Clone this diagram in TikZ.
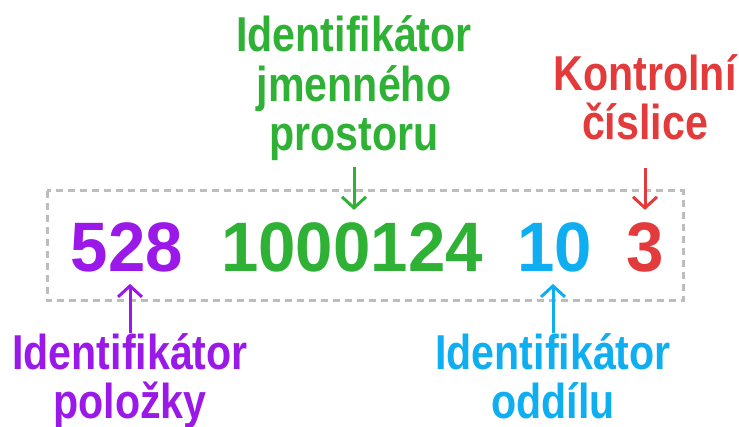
\documentclass[tikz,border=0pt]{standalone}
\usepackage{fontspec}
\usetikzlibrary{arrows.meta}

\newfontfamily\labelfont{Liberation Sans}[FakeStretch = 0.84]
\newfontfamily\digitfont{Liberation Sans}[FakeStretch = 0.96]

\definecolor{itempurple}{HTML}{9B19E8}
\definecolor{nsgreen}{HTML}{2EB135}
\definecolor{partblue}{HTML}{0FAEF0}
\definecolor{checkred}{HTML}{E33B3B}
\definecolor{boxgray}{HTML}{BDBDBD}

\tikzset{
  digits/.style = {inner sep = 0, anchor = base, font = \digitfont\bfseries\fontsize{70}{70}\selectfont},
  idlabel/.style = {inner sep = 0, anchor = base, align = center, font = \labelfont\bfseries\fontsize{49}{49.5}\selectfont},
  pointer/.style = {line width = 3pt, -{Straight Barb[length = 11pt, width = 24pt]}}
}

\begin{document}
\begin{tikzpicture}[x = 1pt, y = -1pt]

    \useasboundingbox (0,0) rectangle (739,427);

    % the dashed frame round the number
    \draw [boxgray, line width = 3pt, dash pattern = on 7pt off 5pt] (47,191) rectangle (683,301);

    % the four parts of the number
    \node [digits, itempurple] (item) at (127,272) {528};
    \node [digits, nsgreen] (ns) at (352,272) {1000124};
    \node [digits, partblue] (part) at (555,272) {10};
    \node [digits, checkred] (check) at (645,272) {3};

    % what each part means (base = last line)
    \node [idlabel, nsgreen] (nslabel) at (354,151) {Identifikátor\\jmenného\\prostoru};
    \node [idlabel, checkred] (checklabel) at (645,140) {Kontrolní\\číslice};
    \node [idlabel, itempurple] (itemlabel) at (130,419) {Identifikátor\\položky};
    \node [idlabel, partblue] (partlabel) at (553,419) {Identifikátor\\oddílu};

    \draw [pointer, nsgreen, shorten <= 6pt, shorten >= 13pt] (nslabel.south) -- (nslabel.south |- ns.north);
    \draw [pointer, checkred, shorten <= 27pt, shorten >= 13pt] (checklabel.south) -- (checklabel.south |- check.north);
    \draw [pointer, itempurple, shorten >= 11pt] (itemlabel.north) -- (itemlabel.north |- item.south);
    \draw [pointer, partblue, shorten >= 11pt] (partlabel.north) -- (partlabel.north |- part.south);

\end{tikzpicture}
\end{document}
